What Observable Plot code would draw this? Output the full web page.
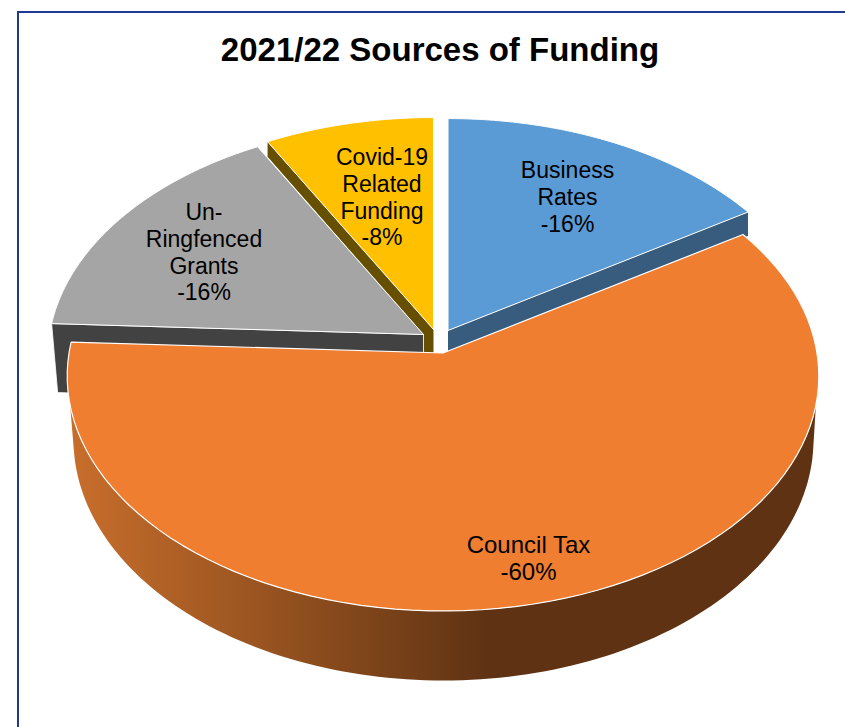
<!DOCTYPE html>
<html>
<head>
<meta charset="utf-8">
<script src="https://cdn.jsdelivr.net/npm/d3@7"></script>
<script src="https://cdn.jsdelivr.net/npm/@observablehq/plot@0.6"></script>
<style>
html,body{margin:0;padding:0;background:#fff;overflow:hidden;width:845px;height:727px;}
#frame{position:absolute;left:17px;top:11px;width:840px;height:730px;border-top:2px solid #1f3a93;border-left:2px solid #1f3a93;}
#title{position:relative;box-sizing:border-box;width:845px;height:90px;padding:30px 0 0 35px;margin:0;text-align:center;font:bold 33px/40px "Liberation Sans",Arial,sans-serif;color:#000;}
#chart{position:relative;width:845px;height:637px;}
#chart svg{display:block;background:transparent;}
</style>
</head>
<body>
<div id="frame"></div>
<div id="title">2021/22 Sources of Funding</div>
<div id="chart"></div>
<script>
// ---- data ----
const categories = ["Business Rates", "Council Tax", "Un-Ringfenced Grants", "Covid-19 Related Funding"];
const shares = [16, 59.75, 16.25, 8];
const percentLabels = ["-16%", "-60%", "-16%", "-8%"];
const labelLines = ["Business\nRates", "Council Tax", "Un-\nRingfenced\nGrants", "Covid-19\nRelated\nFunding"];

// ---- styling and perspective layout ----
const topColors = ["#5b9bd5", "#f07e30", "#a5a5a5", "#ffc000"];
const rimColors = ["#375c7e", "#5e3213", "#424242", "#665000"];
const apexes = [[447.5, 330], [442.5, 352.5], [423, 334], [433, 329]];
const labelSpots = [[567, 196], [528, 557.5], [203.5, 251], [381.5, 196]];
const A = 232.7, B = 374, K = 0.098;

const rad = d => d * Math.PI / 180;
const project = (i, t) => {
  const u = Math.sin(rad(t)), v = Math.cos(rad(t)), s = 1 + K * v;
  return {x: apexes[i][0] + B * u / s, y: apexes[i][1] - A * v / s};
};
const stops = [];
shares.reduce((c, s) => (stops.push([c * 3.6, (c + s) * 3.6]), c + s), 0);
const arc = (i, a, b, n = 90) => d3.range(n + 1).map(j => project(i, a + (b - a) * j / n));
const apexPt = i => ({x: apexes[i][0], y: apexes[i][1]});
const closeUp = pts => [...pts, pts[0]];
const shift = (p, dx, dy) => ({x: p.x + dx, y: p.y + dy});

const topFace = i => closeUp([apexPt(i), ...arc(i, stops[i][0], stops[i][1]) ]);

// Cut faces seen below the top of each back slice
const blueEnd = project(0, stops[0][1]);
const blueRim = closeUp([apexPt(0), blueEnd, shift(blueEnd, 0, 24), shift(apexPt(0), 0, 24)]);

const greyEnd = project(2, stops[2][0]);
const greyRim = closeUp([greyEnd, apexPt(2), shift(apexPt(2), 0, 70), shift(greyEnd, 6, 69)]);

const yellowEnd = project(3, stops[3][0]);
const yellowRim = closeUp([
  yellowEnd, apexPt(3), shift(apexPt(3), 0, 60), shift(apexPt(3), -10, 60),
  shift(apexPt(3), -10, 5), shift(yellowEnd, 0, 15)
]);

// Outer wall of the Council Tax slice
const wallTop = arc(1, 102.7, 257.3, 120);
const wallBottom = d3.range(121).map(j => {
  const p = rad(177 - 174 * j / 120);
  return {x: 443 + 370 * Math.cos(p), y: 439 + 241 * Math.sin(p)};
});
const wall = [...wallTop, ...wallBottom];

const labels = categories.map((c, i) => ({
  text: `${labelLines[i]}\n${percentLabels[i]}`, x: labelSpots[i][0], y: labelSpots[i][1]
}));

const face = (pts, fill, stroke = "#fff", strokeWidth = 1) =>
  Plot.line(pts, {x: "x", y: "y", fill, stroke, strokeWidth, curve: "linear", strokeLinejoin: "miter"});

const gradient = () => {
  const defs = d3.create("svg:defs");
  const g = defs.append("linearGradient").attr("id", "wallShade")
    .attr("gradientUnits", "userSpaceOnUse").attr("x1", 70).attr("x2", 490).attr("y1", 0).attr("y2", 0);
  [[0, "#c86e2c"], [0.55, "#8f4e1e"], [1, "#5e3213"]].forEach(([o, c]) =>
    g.append("stop").attr("offset", o).attr("stop-color", c));
  return defs.node();
};

const textStyle = {x: "x", y: "y", text: "text", fontFamily: "Liberation Sans", fill: "#000", textAnchor: "middle"};

const chart = Plot.plot({
  width: 845, height: 637, margin: 0,
  x: {domain: [0, 845], range: [0, 845], axis: null},
  y: {domain: [90, 727], range: [0, 637], axis: null},
  marks: [
    gradient,
    face(yellowRim, rimColors[3], "none"),
    face(topFace(3), topColors[3]),
    face(blueRim, rimColors[0], "none"),
    face(topFace(0), topColors[0]),
    face(greyRim, rimColors[2], "#fff", 0.8),
    face(topFace(2), topColors[2]),
    face(wall, "url(#wallShade)", "none"),
    face(topFace(1), topColors[1], "#fff", 1.2),
    Plot.text(labels.filter((d, i) => i !== 1), {...textStyle, fontSize: 23, lineHeight: 1.17}),
    Plot.text(labels.filter((d, i) => i === 1), {...textStyle, fontSize: 24, lineHeight: 1.125})
  ]
});
document.getElementById("chart").appendChild(chart);
</script>
</body>
</html>
